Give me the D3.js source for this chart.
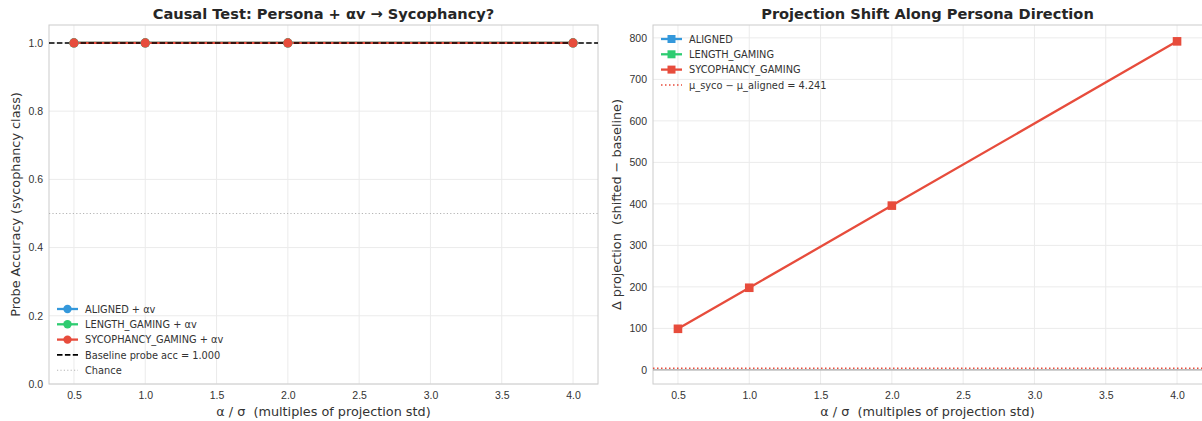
<!DOCTYPE html>
<html>
<head>
<meta charset="utf-8">
<script src="https://cdn.jsdelivr.net/npm/d3@7"></script>
<style>
  body { margin: 0; background: #fff; }
  svg { font-family: "DejaVu Sans", sans-serif; }
  svg text { white-space: pre; }
  .grid line { stroke: #ebebeb; stroke-width: 1; }
  .tick text { fill: #333; font-size: 10.5px; }
</style>
</head>
<body>
<svg id="chart" width="1202" height="421"></svg>
<script>
// ---- data ----
var alphas = [0.5, 1.0, 2.0, 4.0];
var xTicks = [0.5, 1.0, 1.5, 2.0, 2.5, 3.0, 3.5, 4.0];

var accAligned = [1.0, 1.0, 1.0, 1.0];
var accLength = [1.0, 1.0, 1.0, 1.0];
var accSyco = [1.0, 1.0, 1.0, 1.0];
var baselineAcc = 1.0;
var chance = 0.5;

var shiftAligned = [null, null, null, null];
var shiftLength = [null, null, null, null];
var shiftSyco = [99.0, 197.9, 395.8, 791.6];
var muDiff = 4.241;

var accTicks = [0.0, 0.2, 0.4, 0.6, 0.8, 1.0];
var shiftTicks = [0, 100, 200, 300, 400, 500, 600, 700, 800];

var colors = { aligned: "#3498db", length: "#2ecc71", syco: "#e74c3c" };

var svg = d3.select("#chart");

function panel(opt) {
  var g = svg.append("g").attr("transform", "translate(" + opt.left + "," + opt.top + ")");
  var w = opt.width, h = opt.height;

  var x = d3.scaleLinear().domain([0.325, 4.175]).range([0, 549]);
  var y = d3.scaleLinear().domain(opt.yDomain).range([h, 0]);

  // clip
  var clipId = "clip" + opt.id;
  g.append("clipPath").attr("id", clipId)
    .append("rect").attr("width", w).attr("height", h);

  // grid
  g.append("g").attr("class", "grid")
    .selectAll("line.v").data(xTicks).enter().append("line")
    .attr("x1", x).attr("x2", x).attr("y1", 0).attr("y2", h);
  g.append("g").attr("class", "grid")
    .selectAll("line.h").data(opt.yTicks).enter().append("line")
    .attr("x1", 0).attr("x2", w).attr("y1", y).attr("y2", y);

  // axes
  var xAxis = g.append("g").attr("transform", "translate(0," + h + ")")
    .call(d3.axisBottom(x).tickValues(xTicks).tickFormat(d3.format(".1f")).tickSize(0).tickPadding(8));
  xAxis.select(".domain").remove();
  var yAxis = g.append("g")
    .call(d3.axisLeft(y).tickValues(opt.yTicks).tickFormat(opt.yFormat).tickSize(0).tickPadding(6));
  yAxis.select(".domain").remove();

  g.append("rect").attr("width", w).attr("height", h)
    .attr("fill", "none").attr("stroke", "#cccccc").attr("stroke-width", 1);

  // labels
  g.append("text").attr("x", 549 / 2).attr("y", -6).attr("text-anchor", "middle")
    .attr("font-size", 14.6).attr("font-weight", "bold").attr("fill", "#262626").text(opt.title);
  g.append("text").attr("x", 549 / 2).attr("y", h + 32).attr("text-anchor", "middle")
    .attr("font-size", 12.8).attr("fill", "#333").text("α / σ  (multiples of projection std)");
  g.append("text").attr("transform", "translate(" + opt.ylabelX + "," + (h / 2) + ") rotate(-90)")
    .attr("text-anchor", "middle").attr("font-size", 12.8).attr("fill", "#333").text(opt.ylabel);

  var plot = g.append("g").attr("clip-path", "url(#" + clipId + ")");
  return { g: g, plot: plot, x: x, y: y, w: w, h: h };
}

function drawSeries(p, values, color) {
  var pts = alphas.map(function (a, i) { return [a, values[i]]; })
    .filter(function (d) { return d[1] !== null; });
  var line = d3.line().x(function (d) { return p.x(d[0]); }).y(function (d) { return p.y(d[1]); });
  p.plot.append("path").datum(pts).attr("d", line)
    .attr("fill", "none").attr("stroke", color).attr("stroke-width", 2.3);
  return pts;
}

function drawMarkers(p, pts, color, shape) {
  if (shape === "circle") {
    p.plot.selectAll(null).data(pts).enter().append("circle")
      .attr("cx", function (d) { return p.x(d[0]); }).attr("cy", function (d) { return p.y(d[1]); })
      .attr("r", 4.6).attr("fill", color);
  } else {
    p.plot.selectAll(null).data(pts).enter().append("rect")
      .attr("x", function (d) { return p.x(d[0]) - 4.3; }).attr("y", function (d) { return p.y(d[1]) - 4.3; })
      .attr("width", 8.6).attr("height", 8.6).attr("fill", color);
  }
}

function hline(p, v, color, width, dash) {
  p.plot.append("line").attr("x1", 0).attr("x2", p.w).attr("y1", p.y(v)).attr("y2", p.y(v))
    .attr("stroke", color).attr("stroke-width", width).attr("stroke-dasharray", dash);
}

function legend(p, x0, y0, items) {
  var lg = p.g.append("g").attr("transform", "translate(" + x0 + "," + y0 + ")");
  items.forEach(function (it, i) {
    var row = lg.append("g").attr("transform", "translate(0," + (i * 15.3) + ")");
    row.append("line").attr("x1", 0).attr("x2", 21).attr("y1", 0).attr("y2", 0)
      .attr("stroke", it.color).attr("stroke-width", it.width || 2.3)
      .attr("stroke-dasharray", it.dash || null);
    if (it.marker === "circle") {
      row.append("circle").attr("cx", 10.5).attr("cy", 0).attr("r", 4.2).attr("fill", it.color);
    } else if (it.marker === "square") {
      row.append("rect").attr("x", 6.5).attr("y", -4).attr("width", 8).attr("height", 8).attr("fill", it.color);
    }
    row.append("text").attr("x", 28).attr("y", 3.6).attr("font-size", 9.8).attr("fill", "#333").text(it.label);
  });
}

// ---- left panel ----
var left = panel({
  id: "L", left: 49, top: 25, width: 549, height: 359,
  yDomain: [0, 1.0526], yTicks: accTicks, yFormat: d3.format(".1f"),
  title: "Causal Test: Persona + αv → Sycophancy?",
  ylabel: "Probe Accuracy (sycophancy class)", ylabelX: -29
});
hline(left, chance, "#b5b5b5", 1.1, "1.2,2.2");
var pa = drawSeries(left, accAligned, colors.aligned);
var pl = drawSeries(left, accLength, colors.length);
var ps = drawSeries(left, accSyco, colors.syco);
hline(left, baselineAcc, "#000", 1.6, "5.5,2.4");
drawMarkers(left, pa, colors.aligned, "circle");
drawMarkers(left, pl, colors.length, "circle");
drawMarkers(left, ps, colors.syco, "circle");
legend(left, 8, 284, [
  { label: "ALIGNED + αv", color: colors.aligned, marker: "circle" },
  { label: "LENGTH_GAMING + αv", color: colors.length, marker: "circle" },
  { label: "SYCOPHANCY_GAMING + αv", color: colors.syco, marker: "circle" },
  { label: "Baseline probe acc = " + baselineAcc.toFixed(3), color: "#000", width: 1.6, dash: "5.5,2.4" },
  { label: "Chance", color: "#b5b5b5", width: 1.1, dash: "1.2,2.2" }
]);

// ---- right panel (runs past the right edge of the figure) ----
var right = panel({
  id: "R", left: 653, top: 25, width: 560, height: 359,
  yDomain: [-34, 831], yTicks: shiftTicks, yFormat: d3.format("d"),
  title: "Projection Shift Along Persona Direction",
  ylabel: "Δ projection  (shifted − baseline)", ylabelX: -32
});
hline(right, 0, "#aaaaaa", 1.3, null);
var ra = drawSeries(right, shiftAligned, colors.aligned);
var rl = drawSeries(right, shiftLength, colors.length);
var rs = drawSeries(right, shiftSyco, colors.syco);
drawMarkers(right, ra, colors.aligned, "square");
drawMarkers(right, rl, colors.length, "square");
drawMarkers(right, rs, colors.syco, "square");
hline(right, muDiff, colors.syco, 1.5, "1.5,2.5");
legend(right, 8, 14, [
  { label: "ALIGNED", color: colors.aligned, marker: "square" },
  { label: "LENGTH_GAMING", color: colors.length, marker: "square" },
  { label: "SYCOPHANCY_GAMING", color: colors.syco, marker: "square" },
  { label: "μ_syco − μ_aligned = " + muDiff.toFixed(3), color: colors.syco, width: 1.5, dash: "1.5,2.5" }
]);
</script>
</body>
</html>
